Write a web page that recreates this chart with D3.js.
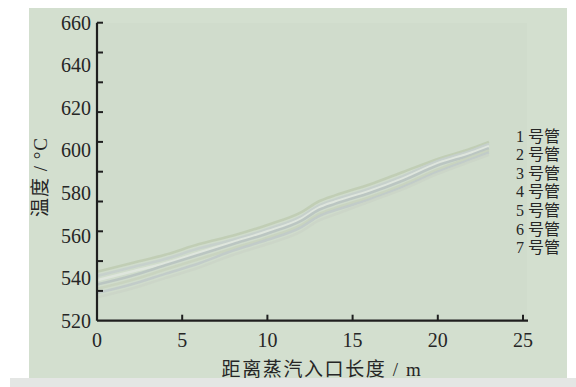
<!DOCTYPE html>
<html><head><meta charset="utf-8">
<script src="https://cdn.jsdelivr.net/npm/d3@7"></script>
<style>
html,body{margin:0;padding:0;background:#fff;}
svg{display:block;}
text{font-family:"Liberation Serif","Times New Roman","Noto Sans CJK SC",serif;fill:#262626;}
</style></head>
<body>
<svg id="c" width="576" height="387"></svg>
<script>
const xs = [0, 2, 4, 6, 8, 10, 12, 13, 14, 16, 18, 20, 22, 23];
const tube1 = [543, 547, 551, 556, 560, 565, 571, 576, 579, 584, 590, 596, 601, 604];
const tube2 = [541, 545, 549, 554, 558, 563, 569, 574, 577, 582, 588, 595, 600, 603];
const tube3 = [539, 543, 547, 552, 557, 562, 568, 573, 576, 581, 587, 594, 599, 602];
const tube4 = [537, 541, 546, 551, 556, 561, 567, 572, 575, 580, 586, 593, 598, 601];
const tube5 = [535, 539, 544, 549, 554, 559, 565, 570, 573, 578, 584, 591, 597, 600];
const tube6 = [533, 537, 542, 547, 553, 558, 564, 569, 572, 577, 583, 590, 596, 599];
const tube7 = [531, 535, 540, 545, 551, 556, 562, 567, 570, 576, 582, 589, 595, 598];
const seriesNames = ["1 号管", "2 号管", "3 号管", "4 号管", "5 号管", "6 号管", "7 号管"];
const xTicks = [0, 5, 10, 15, 20, 25];
const yLabels = [520, 540, 560, 580, 600, 620, 640, 660];
const yTickMarks = [520, 534, 548, 562, 576, 590, 604, 618, 632, 646, 660];
const xTitle = "距离蒸汽入口长度 / m";
const yTitle = "温度 / °C";

const series = [tube1, tube2, tube3, tube4, tube5, tube6, tube7];
const colors = ["#bfccb2", "#c5cfcc", "#e0e7df", "#b8c3c1", "#c8d3bf", "#c0cac9", "#cbd5c8"];

const svg = d3.select("#c");
// background panel
svg.append("rect").attr("x", 29).attr("y", 8).attr("width", 538).attr("height", 370).attr("fill", "#d3dfcf");
svg.append("rect").attr("x", 10).attr("y", 378).attr("width", 566).attr("height", 9).attr("fill", "#e4e6e4");
svg.append("rect").attr("x", 97).attr("y", 23).attr("width", 430).attr("height", 298).attr("fill", "#d0dccc");

const x = d3.scaleLinear().domain([0, 25]).range([97, 523]);
const y = d3.scaleLinear().domain([520, 660]).range([320.7, 22.7]);

// lines
const line = d3.line().x((d, i) => x(xs[i])).y(d => y(d)).curve(d3.curveMonotoneX);
svg.append("g").selectAll("path").data(series).join("path")
  .attr("d", d => line(d)).attr("fill", "none")
  .attr("stroke", (d, i) => colors[i]).attr("stroke-width", 2.6).attr("opacity", 0.9);

// axes
const axisColor = "#1f1f1f";
svg.append("line").attr("x1", x(0)).attr("x2", x(25) + 5).attr("y1", y(520)).attr("y2", y(520))
  .attr("stroke", axisColor).attr("stroke-width", 2.2);
svg.append("line").attr("x1", x(0)).attr("x2", x(0)).attr("y1", y(520)).attr("y2", y(660))
  .attr("stroke", axisColor).attr("stroke-width", 2.2);

svg.append("g").selectAll("line").data(yTickMarks.filter(v => v > 520)).join("line")
  .attr("x1", x(0)).attr("x2", x(0) + 6).attr("y1", d => y(d)).attr("y2", d => y(d))
  .attr("stroke", axisColor).attr("stroke-width", 2);
svg.append("g").selectAll("line").data(xTicks.filter(v => v > 0)).join("line")
  .attr("x1", d => x(d)).attr("x2", d => x(d)).attr("y1", y(520)).attr("y2", y(520) - 6)
  .attr("stroke", axisColor).attr("stroke-width", 2);

svg.append("g").selectAll("text").data(yLabels).join("text")
  .attr("x", 91).attr("y", d => y(d)).attr("dy", "0.35em").attr("text-anchor", "end")
  .attr("font-size", 20).text(d => d);
svg.append("g").selectAll("text").data(xTicks).join("text")
  .attr("x", d => x(d)).attr("y", 340).attr("dy", "0.35em").attr("text-anchor", "middle")
  .attr("font-size", 20).text(d => d);

svg.append("text").attr("x", 322).attr("y", 369).attr("dy", "0.35em").attr("text-anchor", "middle")
  .attr("font-size", 19).attr("letter-spacing", 1.6).text(xTitle);
svg.append("text").attr("transform", "translate(40,177) rotate(-90)").attr("dy", "0.35em")
  .attr("text-anchor", "middle").attr("font-size", 19).attr("letter-spacing", 1).text(yTitle);

// legend
svg.append("g").selectAll("text").data(seriesNames).join("text")
  .attr("x", 516).attr("y", (d, i) => 136 + i * 18.6).attr("dy", "0.35em")
  .attr("font-size", 16).text(d => d);
</script>
</body></html>
